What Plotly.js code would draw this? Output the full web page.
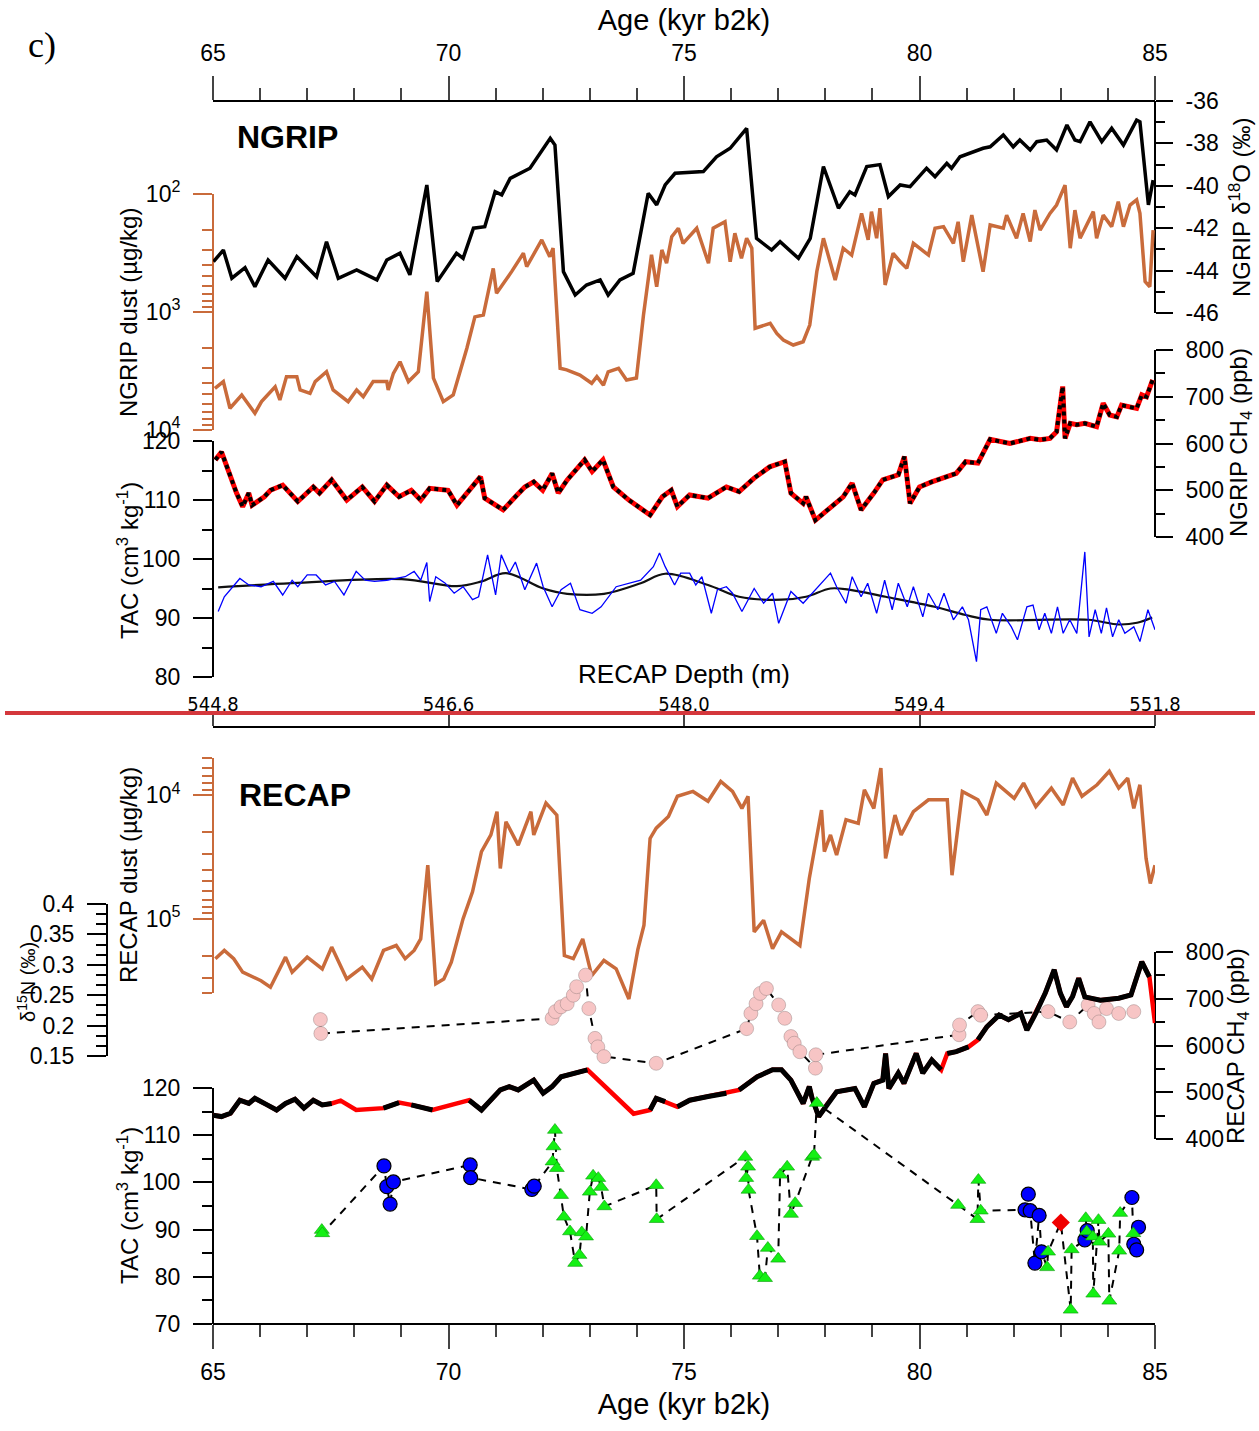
<!DOCTYPE html>
<html><head><meta charset="utf-8">
<script src="https://cdn.plot.ly/plotly-3.0.1.min.js"></script>
<style>html,body{margin:0;padding:0;background:#fff}#chart{width:1259px;height:1431px}</style>
</head><body><div id="chart"></div>
<script>
// ---------------- DATA ----------------
const ageTicks = [65, 70, 75, 80, 85];
const depthTicks = ['544.8', '546.6', '548.0', '549.4', '551.8'];
const d18OTicks = [-46, -44, -42, -40, -38, -36];
const d15NTicks = [0.15, 0.2, 0.25, 0.3, 0.35, 0.4];

// NGRIP d18O (permil)
const ageD18O = [65.01,65.22,65.40,65.68,65.89,66.17,66.53,66.78,67.20,67.41,
 67.66,68.05,68.48,68.69,68.97,69.18,69.54,69.76,70.17,70.31,
 70.53,70.77,70.99,71.13,71.31,71.73,72.16,72.26,72.44,72.69,
 72.93,73.22,73.39,73.64,73.92,74.24,74.42,74.60,74.81,
 75.41,75.69,75.98,76.33,76.54,76.86,77.04,77.43,77.68,77.96,
 78.28,78.52,78.63,78.88,79.16,79.34,79.59,79.80,80.15,80.33,
 80.58,80.68,80.86,81.35,81.50,81.78,81.99,82.13,82.35,82.49,
 82.70,82.91,83.13,83.30,83.41,83.62,83.87,84.08,84.33,84.61,
 84.68,84.86,84.96];
const d18O = [-43.58,-43.03,-44.36,-43.86,-44.76,-43.5,-44.36,-43.34,-44.29,-42.64,
 -44.36,-43.97,-44.44,-43.5,-43.18,-44.2,-39.96,-44.52,-43.18,-43.42,
 -42.0,-41.93,-40.28,-40.43,-39.65,-39.17,-37.76,-38.08,-44.05,-45.15,
 -44.68,-44.44,-45.15,-44.44,-44.13,-40.35,-40.9,-39.96,-39.41,
 -39.33,-38.63,-38.23,-37.29,-42.48,-43.03,-42.64,-43.42,-42.48,-39.09,
 -41.06,-40.28,-40.43,-39.09,-39.0,-40.51,-39.96,-40.04,-39.17,-39.57,
 -38.94,-39.17,-38.63,-38.23,-38.16,-37.6,-38.16,-37.84,-38.31,-37.92,
 -37.84,-38.31,-37.13,-37.84,-37.92,-36.98,-37.92,-37.29,-38.08,-36.9,
 -36.98,-40.9,-39.73];

// NGRIP dust (ug/kg)
const ageNDust = [65.04,65.22,65.36,65.61,65.89,66.03,66.32,66.42,66.56,66.78,
 66.85,67.06,67.17,67.41,67.55,67.87,68.05,68.19,68.40,68.69,
 68.72,68.83,68.97,69.15,69.36,69.54,69.68,69.89,70.10,70.39,
 70.56,70.74,70.95,71.02,71.34,71.59,71.66,71.98,72.15,72.22,
 72.37,72.51,72.79,73.04,73.15,73.29,73.39,73.61,73.78,73.99,
 74.14,74.31,74.42,74.53,74.63,74.74,74.88,74.98,75.27,75.52,
 75.62,75.87,75.98,76.08,76.22,76.33,76.44,76.51,76.83,76.97,
 77.11,77.32,77.53,77.67,77.82,77.96,78.21,78.38,78.56,78.77,
 78.91,78.98,79.09,79.16,79.27,79.44,79.59,79.73,79.87,80.19,
 80.33,80.51,80.72,80.82,80.93,81.11,81.35,81.50,81.78,81.85,
 82.06,82.20,82.35,82.45,82.56,82.77,82.91,83.09,83.20,83.30,
 83.41,83.69,83.76,83.90,84.08,84.22,84.33,84.47,84.61,84.68,
 84.79,84.89,84.96];
const nDust = [4440,3890,6540,5050,7210,5750,4300,5570,3530,3530,
 4580,4890,3890,3210,4580,5750,4580,5220,3890,3890,
 4580,3310,2640,3890,3210,673,3630,5750,5050,2030,
 1100,1060,427,695,455,318,413,245,340,288,
 3000,3090,3420,4020,3530,4160,3210,3000,3770,3630,
 1060,327,611,298,386,230,195,262,195,386,
 195,172,375,215,351,237,288,1374,1247,1517,
 1727,1905,1787,1290,455,237,535,288,329,146,
 245,141,237,132,590,318,375,427,262,329,
 195,189,262,172,375,151,455,183,195,151,
 237,146,253,137,202,146,124,84,288,137,
 237,141,237,151,189,116,189,124,112,146,
 552,611,202];

// NGRIP CH4 (ppb)
const ageNCH4 = [65.05,65.18,65.50,65.63,65.76,65.83,66.09,66.22,66.48,66.80,
 67.13,67.26,67.52,67.84,68.17,68.43,68.69,68.95,69.21,69.41,
 69.60,69.99,70.18,70.44,70.68,70.77,71.16,71.42,71.62,71.81,
 72.00,72.20,72.33,72.52,72.89,73.05,73.28,73.50,73.83,74.28,
 74.54,74.73,74.86,75.12,75.51,75.90,76.17,76.49,76.82,77.14,
 77.27,77.53,77.59,77.79,78.05,78.38,78.57,78.76,79.03,79.22,
 79.55,79.68,79.80,80.00,80.26,80.52,80.78,80.98,81.24,81.50,
 81.92,82.35,82.56,82.77,82.91,83.04,83.09,83.20,83.34,83.51,
 83.76,83.90,84.04,84.19,84.29,84.61,84.72,84.82,84.95];
const nCH4 = [565,582,494,465,494,468,486,500,511,476,
 507,494,522,479,507,476,511,486,500,479,
 504,500,468,500,529,483,458,486,507,518,
 500,536,494,522,565,540,565,507,479,447,
 486,500,465,490,483,507,497,526,550,561,
 494,472,486,436,458,486,515,458,494,522,
 533,572,472,507,518,526,536,561,558,609,
 600,611,608,611,625,722,611,643,640,643,
 636,686,661,657,682,675,704,700,736];

// NGRIP TAC (cm3/kg) raw and smoothed
const ageTACn = [65.11,65.24,65.57,65.76,66.02,66.28,66.48,66.68,66.80,67.00,
 67.19,67.39,67.58,67.78,68.04,68.23,68.43,68.69,68.89,69.08,
 69.27,69.41,69.54,69.60,69.73,69.93,70.12,70.31,70.51,70.64,
 70.83,71.00,71.12,71.29,71.42,71.62,71.87,72.01,72.20,72.39,
 72.59,72.79,73.05,73.24,73.56,74.08,74.35,74.48,74.60,74.80,
 74.93,75.12,75.25,75.38,75.58,75.71,75.90,76.03,76.23,76.49,
 76.69,76.88,77.01,77.27,77.53,77.73,77.92,78.11,78.24,78.44,
 78.57,78.76,78.90,79.09,79.26,79.42,79.55,79.74,79.87,80.07,
 80.19,80.39,80.52,80.72,80.91,81.04,81.21,81.30,81.43,81.63,
 81.76,81.95,82.08,82.28,82.41,82.54,82.66,82.80,82.93,83.05,
 83.19,83.34,83.51,83.60,83.73,83.86,83.97,84.10,84.23,84.36,
 84.55,84.68,84.85,85.0];
const tacN = [91.1,93.6,96.7,95.6,95.3,96.2,93.9,96.4,95.3,97.3,
 97.3,95.6,96.2,93.9,97.9,96.4,96.2,96.4,96.7,97.0,
 97.9,96.4,99.4,92.8,97.0,95.9,94.2,95.3,93.1,93.6,
 100.7,93.9,100.7,97.6,99.5,94.8,99.3,95.3,91.9,94.8,
 95.9,91.4,90.8,91.9,95.3,96.4,98.7,101.0,98.7,95.6,
 97.6,97.6,95.6,97.0,90.8,94.8,95.3,94.2,91.1,95.0,
 92.5,94.2,89.1,94.5,92.5,94.2,95.9,97.6,95.3,92.5,
 97.0,93.6,95.9,90.8,96.4,91.4,95.9,91.9,95.3,90.2,
 94.2,91.4,94.2,89.7,91.9,89.7,82.6,91.4,91.9,87.4,
 90.8,88.5,86.3,91.9,92.2,88.0,90.8,87.4,91.9,87.4,
 89.7,87.4,101.2,86.8,91.4,87.4,91.7,86.8,89.7,87.4,
 88.5,86.0,91.4,88.0];
const ageTACsmooth = [65.11,66.68,69.01,70.18,70.70,71.22,72.01,72.52,73.30,74.08,74.60,75.51,76.17,77.07,77.59,78.11,78.50,79.28,80.32,80.98,81.50,83.58,84.23,84.62,84.94];
const tacSmooth = [95.2,95.9,96.6,95.4,96.2,97.6,95.0,94.1,94.1,95.9,97.5,95.6,93.6,93.1,93.6,95.0,94.8,93.6,91.9,90.5,89.7,89.7,88.9,89.2,90.1];

// RECAP dust (ug/kg)
const ageRDust = [65.05,65.24,65.44,65.63,66.02,66.22,66.54,66.68,67.00,67.32,
 67.52,67.84,68.17,68.37,68.62,68.89,69.08,69.27,69.41,69.56,
 69.73,69.90,70.06,70.31,70.51,70.70,70.90,71.03,71.10,71.22,
 71.48,71.75,71.81,72.07,72.30,72.46,72.65,72.85,73.04,73.30,
 73.56,73.83,74.02,74.15,74.28,74.41,74.67,74.86,75.19,75.51,
 75.78,76.03,76.23,76.36,76.49,76.69,76.88,77.07,77.46,77.66,
 77.92,77.98,78.11,78.24,78.44,78.70,78.83,79.03,79.18,79.28,
 79.48,79.61,79.87,80.19,80.59,80.69,80.91,81.24,81.43,81.63,
 82.01,82.21,82.47,82.80,83.05,83.25,83.45,83.77,84.03,84.23,
 84.42,84.55,84.68,84.81,84.90,85.0];
const rDust = [211000,181000,211000,271000,318000,359000,205000,271000,205000,255000,
 170000,308000,247000,308000,181000,165000,211000,181000,146000,36900,
 337000,308000,225000,100000,60700,28700,21000,13600,39200,16400,
 25400,13600,21000,11600,14500,199000,211000,146000,289000,218000,
 255000,447000,178000,113000,22400,18500,14900,10200,9330,11200,
 7740,9330,12800,10200,128000,103000,175000,128000,165000,47300,
 13200,28700,21000,30500,15800,16900,9060,12800,6030,32500,
 14500,21000,13600,10900,10900,44500,9330,10900,14500,7980,
 10600,7980,12400,8770,12000,7280,10200,8240,6410,8770,
 7280,12800,8240,32500,51900,36900];

// RECAP CH4 (ppb); spans where values are interpolated (drawn red)
const ageRCH4 = [65.0,65.18,65.37,65.57,65.76,65.89,66.15,66.35,66.54,66.74,
 66.93,67.13,67.32,67.52,67.71,68.04,68.62,68.95,69.21,69.41,
 69.66,70.44,70.70,71.10,71.29,71.48,71.81,72.01,72.20,72.39,
 72.65,72.95,73.93,74.28,74.41,74.60,74.86,75.12,75.51,75.90,
 76.17,76.55,76.88,77.07,77.27,77.53,77.66,77.72,77.86,78.05,
 78.24,78.63,78.83,79.03,79.22,79.28,79.35,79.55,79.67,79.93,
 80.07,80.26,80.46,80.59,80.78,81.04,81.24,81.43,81.69,81.89,
 82.15,82.28,82.47,82.67,82.86,82.99,83.12,83.25,83.38,83.51,
 83.84,84.23,84.49,84.72,84.88,84.94,85.0];
const rCH4 = [451,448,455,483,476,487,473,462,476,485,
 466,483,473,476,482,462,466,478,473,469,
 462,483,462,505,512,505,526,498,512,533,
 541,548,454,462,487,480,469,483,491,498,
 505,533,548,548,526,476,512,487,448,476,
 501,508,469,519,526,583,508,541,519,583,
 541,569,548,583,587,597,612,640,665,655,
 669,633,669,712,762,712,683,705,744,704,
 697,701,708,779,747,704,648];
const rCH4InterpSpans = [[67.5,68.62],[68.95,69.25],[69.66,70.44],[72.95,74.28],[74.55,74.9],[75.85,76.2],[80.4,80.6],[80.95,81.25],[84.85,85.0]];

// RECAP d15N (permil)
const ageD15N = [67.28,67.29,72.20,72.27,72.39,72.52,72.65,72.72,72.91,72.98,
 73.11,73.17,73.30,74.41,76.33,76.42,76.53,76.62,76.75,77.01,
 77.14,77.27,77.34,77.46,77.79,77.80,80.84,80.85,81.24,81.30,
 82.73,83.19,83.58,83.71,83.81,83.97,84.23,84.55];
const d15N = [0.210,0.187,0.212,0.223,0.231,0.236,0.250,0.264,0.283,0.228,
 0.179,0.165,0.149,0.138,0.195,0.220,0.236,0.253,0.261,0.234,
 0.212,0.182,0.171,0.157,0.130,0.152,0.185,0.201,0.223,0.217,
 0.223,0.206,0.234,0.220,0.206,0.228,0.220,0.223];

// RECAP TAC (cm3/kg): three sample groups
const ageTACg = [67.31,67.32,72.21,72.23,72.26,72.30,72.39,72.45,72.58,72.69,
 72.78,72.83,72.92,73.00,73.07,73.18,73.24,73.31,74.41,74.42,
 76.30,76.32,76.36,76.37,76.55,76.61,76.72,76.78,77.00,77.04,
 77.19,77.27,77.36,77.72,77.76,77.82,80.82,81.23,81.25,81.30,
 82.71,82.73,83.21,83.23,83.53,83.55,83.68,83.69,83.80,83.82,
 84.01,84.03,84.24,84.26,84.54];
const tacG = [89.9,89.2,104.4,107.6,111.1,103.0,97.3,92.7,89.6,82.9,
 84.6,89.4,88.5,98.0,101.4,100.9,99.0,94.9,99.4,92.2,
 105.4,100.9,103.3,98.4,88.6,80.2,79.7,86.1,83.8,101.6,
 103.3,93.3,95.6,105.4,105.8,116.8,95.2,92.2,100.5,94.0,
 82.0,85.3,73.0,85.8,92.4,89.6,88.5,76.4,92.0,87.4,
 89.1,74.9,85.5,93.5,89.2];
const ageTACb = [68.63,68.69,68.76,68.83,70.46,70.47,71.77,71.82,82.24,82.31,
 82.35,82.45,82.54,82.59,83.51,83.56,84.51,84.55,84.61,84.65];
const tacB = [103.5,99.1,95.4,100.1,103.7,101.0,98.5,99.2,94.2,97.5,
 94.0,82.9,93.0,85.3,87.8,89.8,96.8,86.9,85.7,90.5];
const ageTACr = [83.00];
const tacR = [91.5];

// ---------------- LAYOUT HELPERS ----------------
const W = 1259, H = 1431;
const fx = p => p / W, fy = p => 1 - p / H;
const X0 = 213, X1 = 1155;
const FONT = 'Liberation Sans, Arial, sans-serif';
const ORANGE = '#C96B3B';
const TICKF = {family: FONT, size: 23, color: '#000'};

function logMinor(lo, hi) { // minor tick positions for log axis
  const v = [];
  for (let e = Math.floor(Math.log10(lo)); e <= Math.ceil(Math.log10(hi)); e++)
    for (let m = 2; m <= 9; m++) { const t = m * Math.pow(10, e); if (t >= lo && t <= hi) v.push(t); }
  return v;
}

const AX = {
  d18O:  {side:'right', xpos:X1, top:101, bot:313, range:[-46,-36], tickvals:d18OTicks, ticktext:d18OTicks.map(String), minor:1, len:17},
  ndust: {side:'left', xpos:X0, top:194, bot:430, log:true, range:[4,2], color:ORANGE,
          tickvals:[100,1000,10000], ticktext:['10<sup>2</sup>','10<sup>3</sup>','10<sup>4</sup>'], minorvals:logMinor(100,10000), len:19},
  nch4:  {side:'right', xpos:X1, top:350, bot:537, range:[400,800], dtick:100, minor:50, len:17},
  tac1:  {side:'left', xpos:X0, top:441, bot:677, range:[80,120], dtick:10, minor:5, len:19},
  rdust: {side:'left', xpos:X0, top:758, bot:993, log:true, range:[Math.log10(4e5), Math.log10(5e3)], color:ORANGE,
          tickvals:[1e4,1e5], ticktext:['10<sup>4</sup>','10<sup>5</sup>'], minorvals:logMinor(5e3,4e5), len:19},
  d15n:  {side:'left', xpos:107, top:904, bot:1056, range:[0.15,0.4], tickvals:d15NTicks, ticktext:d15NTicks.map(String), minor:0.05/3, len:19},
  rch4:  {side:'right', xpos:X1, top:952, bot:1139, range:[400,800], dtick:100, minor:50, len:17},
  tac2:  {side:'left', xpos:X0, top:1088, bot:1324, range:[70,120], dtick:10, minor:5, len:19}
};

function yDisplay(o) {
  const col = o.color || '#000';
  const ax = {
    domain:[fy(o.bot), fy(o.top)], range:o.range, type:o.log ? 'log' : 'linear',
    anchor:'free', position:fx(o.xpos), side:o.side,
    showline:true, linecolor:col, linewidth:2,
    ticks:'outside', ticklen:o.len, tickwidth:2, tickcolor:col,
    tickfont:TICKF, ticklabelstandoff:8,
    showgrid:false, zeroline:false, fixedrange:true
  };
  if (o.tickvals) { ax.tickmode = 'array'; ax.tickvals = o.tickvals; ax.ticktext = o.ticktext; }
  else { ax.tickmode = 'linear'; ax.tick0 = o.range[0]; ax.dtick = o.dtick; }
  ax.minor = {ticks:'outside', ticklen:Math.round(o.len / 2), tickwidth:2, tickcolor:col, showgrid:false};
  if (o.minorvals) { ax.minor.tickmode = 'array'; ax.minor.tickvals = o.minorvals; }
  else { ax.minor.tick0 = o.range[0]; ax.minor.dtick = o.minor; }
  return ax;
}
function yTwin(o) {
  const d0 = fy(o.bot), d1 = fy(o.top), r0 = o.range[0], r1 = o.range[1];
  const s = (r1 - r0) / (d1 - d0);
  return {overlaying:'y', visible:false, type:o.log ? 'log' : 'linear',
          range:[r0 - d0 * s, r0 + (1 - d0) * s], fixedrange:true, anchor:'free', position:fx(o.xpos)};
}

const keys = Object.keys(AX);
const layout = {
  width:W, height:H, margin:{l:0, r:0, t:0, b:0},
  paper_bgcolor:'#fff', plot_bgcolor:'rgba(0,0,0,0)', showlegend:false,
  font:{family:FONT, color:'#000'},
  yaxis:{domain:[0,1], range:[0,1], visible:false, anchor:'free', position:0, fixedrange:true},
  xaxis:{domain:[fx(X0), fx(X1)], range:[65,85], anchor:'free', position:fy(1324), side:'bottom',
    showline:true, linewidth:2, linecolor:'#000', ticks:'outside', ticklen:24, tickwidth:2,
    tickmode:'array', tickvals:ageTicks, tickfont:TICKF, ticklabelstandoff:3,
    minor:{ticks:'outside', tick0:65, dtick:1, ticklen:12, tickwidth:2, showgrid:false},
    showgrid:false, zeroline:false, fixedrange:true,
    title:{text:'Age (kyr b2k)', font:{family:FONT, size:29}, standoff:9}},
  xaxis2:{overlaying:'x', range:[65,85], anchor:'free', position:fy(101), side:'top',
    showline:true, linewidth:2, linecolor:'#000', ticks:'outside', ticklen:24, tickwidth:2,
    tickmode:'array', tickvals:ageTicks, tickfont:TICKF, ticklabelstandoff:6,
    minor:{ticks:'outside', tick0:65, dtick:1, ticklen:12, tickwidth:2, showgrid:false},
    showgrid:false, zeroline:false, fixedrange:true,
    title:{text:'Age (kyr b2k)', font:{family:FONT, size:29}, standoff:0}},
  xaxis3:{overlaying:'x', range:[65,85], anchor:'free', position:fy(727), side:'top',
    showline:true, linewidth:2, linecolor:'#000', ticks:'outside', ticklen:14, tickwidth:2,
    tickmode:'array', tickvals:ageTicks, ticktext:depthTicks,
    tickfont:{family:'Liberation Sans Narrow, Arial Narrow, DejaVu Sans Condensed, sans-serif', size:20, color:'#000'},
    ticklabelstandoff:-7,
    showgrid:false, zeroline:false, fixedrange:true,
    title:{text:'RECAP Depth (m)', font:{family:FONT, size:26}, standoff:0}},
  shapes:[{type:'line', xref:'paper', yref:'paper', x0:fx(5), x1:fx(1255), y0:fy(713), y1:fy(713),
           line:{color:'#D4373C', width:4}}],
  annotations:[]
};
keys.forEach((k, i) => {
  layout['yaxis' + (i + 2)] = yDisplay(AX[k]);
  layout['yaxis' + (i + 2 + keys.length)] = yTwin(AX[k]);
});
const dispId = k => 'y' + (keys.indexOf(k) + 2);
const twinId = k => 'y' + (keys.indexOf(k) + 2 + keys.length);

function ann(text, x, y, size, opts) {
  layout.annotations.push(Object.assign({text:text, xref:'paper', yref:'paper', x:fx(x), y:fy(y),
    xanchor:'center', yanchor:'middle', showarrow:false, font:{family:FONT, size:size, color:'#000'}}, opts || {}));
}
ann('c)', 42, 45, 36, {font:{family:'Liberation Serif, Times New Roman, serif', size:36, color:'#000'}});
ann('<b>NGRIP</b>', 287, 137, 32);
ann('<b>RECAP</b>', 295, 795, 32);
ann('NGRIP dust (µg/kg)', 128, 312, 24, {textangle:-90});
ann('TAC (cm<sup>3</sup> kg<sup>-1</sup>)', 128, 560, 24, {textangle:-90});
ann('NGRIP δ<sup>18</sup>O (‰)', 1240, 207, 24, {textangle:-90});
ann('NGRIP CH<sub>4</sub> (ppb)', 1240, 443, 24, {textangle:-90});
ann('RECAP dust (µg/kg)', 128, 875, 24, {textangle:-90});
ann('δ<sup>15</sup>N (‰)', 26, 982, 20, {textangle:-90});
ann('RECAP CH<sub>4</sub> (ppb)', 1237, 1046, 24, {textangle:-90});
ann('TAC (cm<sup>3</sup> kg<sup>-1</sup>)', 128, 1205, 24, {textangle:-90});

// ---------------- TRACES ----------------
const traces = [];
const base = {type:'scatter', xaxis:'x', showlegend:false, hoverinfo:'skip'};
// empty traces to instantiate the display axes
keys.forEach(k => traces.push(Object.assign({}, base, {x:[], y:[], yaxis:dispId(k)})));
traces.push(Object.assign({}, base, {x:[], y:[], xaxis:'x2', yaxis:'y'}));
traces.push(Object.assign({}, base, {x:[], y:[], xaxis:'x3', yaxis:'y'}));

const line = (x, y, ax, l, extra) => Object.assign({}, base, {x:x, y:y, yaxis:twinId(ax), mode:'lines', line:l}, extra || {});

traces.push(line(ageNDust, nDust, 'ndust', {color:ORANGE, width:3.5}));
traces.push(line(ageD18O, d18O, 'd18O', {color:'#000', width:3.5}));
traces.push(line(ageNCH4, nCH4, 'nch4', {color:'#FF0000', width:5}));
traces.push(line(ageNCH4, nCH4, 'nch4', {color:'#000', width:4, dash:'dot'}));
traces.push(line(ageTACsmooth, tacSmooth, 'tac1', {color:'#111', width:2.2, shape:'spline', smoothing:1}));
traces.push(line(ageTACn, tacN, 'tac1', {color:'#0000FF', width:1.3}));

traces.push(line(ageRDust, rDust, 'rdust', {color:ORANGE, width:3.5}));

// RECAP CH4: red everywhere, black where measured (gaps over interpolated spans)
traces.push(line(ageRCH4, rCH4, 'rch4', {color:'#FF0000', width:4.5}));
const bx = [], by = [];
for (let i = 0; i < ageRCH4.length; i++) {
  bx.push(ageRCH4[i]); by.push(rCH4[i]);
  if (i < ageRCH4.length - 1) {
    const mid = (ageRCH4[i] + ageRCH4[i + 1]) / 2;
    if (rCH4InterpSpans.some(s => mid >= s[0] && mid <= s[1])) { bx.push(mid); by.push(null); }
  }
}
traces.push(line(bx, by, 'rch4', {color:'#000', width:5}, {connectgaps:false}));

// d15N
traces.push(line(ageD15N, d15N, 'd15n', {color:'#000', width:2, dash:'8px,7px'}));
traces.push(Object.assign({}, base, {x:ageD15N, y:d15N, yaxis:twinId('d15n'), mode:'markers',
  marker:{symbol:'circle', size:14, color:'#F7C5C5', line:{color:'rgba(140,120,120,0.6)', width:0.7}}}));

// RECAP TAC combined dashed line (all samples in age order)
const all = [];
ageTACg.forEach((a, i) => all.push([a, tacG[i]]));
ageTACb.forEach((a, i) => all.push([a, tacB[i]]));
ageTACr.forEach((a, i) => all.push([a, tacR[i]]));
all.sort((p, q) => p[0] - q[0]);
traces.push(line(all.map(p => p[0]), all.map(p => p[1]), 'tac2', {color:'#000', width:2, dash:'8px,7px'}));
traces.push(Object.assign({}, base, {x:ageTACb, y:tacB, yaxis:twinId('tac2'), mode:'markers',
  marker:{symbol:'circle', size:14, color:'#0000FF', line:{color:'#000', width:1.2}}}));
traces.push(Object.assign({}, base, {x:ageTACg, y:tacG, yaxis:twinId('tac2'), mode:'markers',
  marker:{symbol:'triangle-up', size:13, color:'#14F014', line:{color:'#0A9A0A', width:0.6}}}));
traces.push(Object.assign({}, base, {x:ageTACr, y:tacR, yaxis:twinId('tac2'), mode:'markers',
  marker:{symbol:'diamond', size:14, color:'#F00000', line:{width:0}}}));

Plotly.newPlot('chart', traces, layout, {staticPlot:true, displayModeBar:false});
</script>
</body></html>
